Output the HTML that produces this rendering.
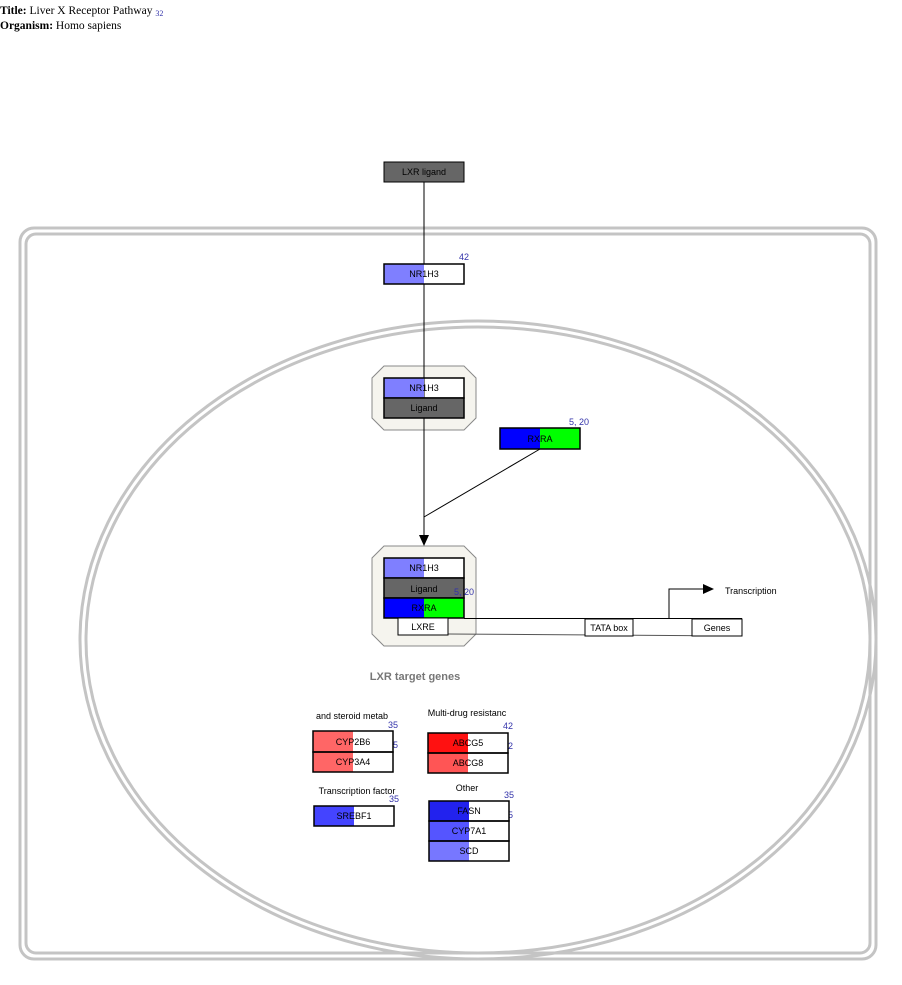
<!DOCTYPE html>
<html><head><meta charset="utf-8"><style>
body{margin:0;background:#fff;width:902px;height:985px;overflow:hidden}
svg{display:block}
.t{font-family:"Liberation Sans",sans-serif;font-size:9px}
</style></head><body>
<svg width="902" height="985" xmlns="http://www.w3.org/2000/svg">
<text x="0" y="14" font-family="Liberation Serif,serif" font-size="11.5"><tspan font-weight="bold">Title:</tspan> Liver X Receptor Pathway <tspan font-size="8" fill="#3333aa" dy="2">32</tspan></text>
<text x="0" y="29" font-family="Liberation Serif,serif" font-size="11.5"><tspan font-weight="bold">Organism:</tspan> Homo sapiens</text>

<g fill="none" stroke="#c4c4c4" stroke-width="3">
<rect x="20" y="228" width="856" height="731" rx="14"/>
<rect x="26" y="234" width="844" height="719" rx="10"/>
<ellipse cx="478" cy="640" rx="398" ry="319"/>
<ellipse cx="478" cy="640" rx="392" ry="313"/>
</g>

<polygon points="384,366 464,366 476,378 476,418 464,430 384,430 372,418 372,378" fill="#f5f4ee" stroke="#888"/>
<polygon points="384,546 464,546 476,558 476,634 464,646 384,646 372,634 372,558" fill="#f5f4ee" stroke="#888"/>

<rect x="384" y="378" width="80" height="20" fill="#fff"/>
<rect x="384" y="558" width="80" height="20" fill="#fff"/>

<g stroke="#000" fill="none">
<line x1="424" y1="182" x2="424" y2="536"/>
<line x1="540" y1="449" x2="424" y2="517"/>
<line x1="464" y1="618.5" x2="742" y2="618.5"/>
<line x1="448" y1="634" x2="742" y2="636" stroke="#555"/>
<polyline points="669,618 669,589 703,589"/>
</g>
<polygon points="419,535 429,535 424,546" fill="#000"/>
<polygon points="703,584 703,594 714,589" fill="#000"/>

<rect x="384" y="162" width="80" height="20" fill="#666" stroke="#000"/>
<text class="t" x="424" y="175" text-anchor="middle">LXR ligand</text>

<rect x="384" y="264" width="80" height="20" fill="#fff"/>
<rect x="384" y="264" width="40" height="20" fill="#7f7fff"/>
<rect x="384" y="264" width="80" height="20" fill="none" stroke="#000" stroke-width="1.5"/>
<text class="t" x="424" y="277" text-anchor="middle">NR1H3</text>
<text class="t" x="459" y="260" font-size="8" fill="#3333aa">42</text>

<rect x="384" y="378" width="40" height="20" fill="#7f7fff"/>
<rect x="384" y="378" width="80" height="20" fill="none" stroke="#000" stroke-width="1.5"/>
<text class="t" x="424" y="391" text-anchor="middle">NR1H3</text>
<rect x="384" y="398" width="80" height="20" fill="#666" stroke="#000" stroke-width="1.5"/>
<text class="t" x="424" y="411" text-anchor="middle">Ligand</text>

<rect x="500" y="428" width="40" height="21" fill="#0000ff"/>
<rect x="540" y="428" width="40" height="21" fill="#00ff00"/>
<rect x="500" y="428" width="80" height="21" fill="none" stroke="#000" stroke-width="1.5"/>
<text class="t" x="540" y="442" text-anchor="middle">RXRA</text>
<text class="t" x="569" y="425" font-size="8" fill="#3333aa">5, 20</text>

<rect x="384" y="558" width="40" height="20" fill="#7f7fff"/>
<rect x="384" y="558" width="80" height="20" fill="none" stroke="#000" stroke-width="1.5"/>
<text class="t" x="424" y="571" text-anchor="middle">NR1H3</text>
<rect x="384" y="578" width="80" height="20" fill="#666" stroke="#000" stroke-width="1.5"/>
<text class="t" x="424" y="592" text-anchor="middle">Ligand</text>
<text class="t" x="454" y="595" font-size="8" fill="#3333aa">5, 20</text>
<rect x="384" y="598" width="40" height="20" fill="#0000ff"/>
<rect x="424" y="598" width="40" height="20" fill="#00ff00"/>
<rect x="384" y="598" width="80" height="20" fill="none" stroke="#000" stroke-width="1.5"/>
<text class="t" x="424" y="611" text-anchor="middle">RXRA</text>
<rect x="398" y="618" width="50" height="17" fill="#fff" stroke="#000"/>
<text class="t" x="423" y="630" text-anchor="middle">LXRE</text>

<rect x="585" y="619" width="48" height="17" fill="#fff" stroke="#000"/>
<text class="t" x="609" y="631" text-anchor="middle">TATA box</text>
<rect x="692" y="619" width="50" height="17" fill="#fff" stroke="#000"/>
<text class="t" x="717" y="631" text-anchor="middle">Genes</text>
<text class="t" x="725" y="594">Transcription</text>

<text x="415" y="680" text-anchor="middle" font-family="Liberation Sans,sans-serif" font-size="11" font-weight="bold" fill="#777">LXR target genes</text>

<text class="t" x="352" y="719" text-anchor="middle">and steroid metab</text>
<text class="t" x="388" y="728" font-size="8" fill="#3333aa">35</text>
<text class="t" x="393" y="748" font-size="8" fill="#3333aa">5</text>
<rect x="313" y="731" width="40" height="21" fill="#ff6666"/>
<rect x="313" y="752" width="40" height="20" fill="#ff6666"/>
<rect x="313" y="731" width="80" height="21" fill="none" stroke="#000" stroke-width="1.5"/>
<rect x="313" y="752" width="80" height="20" fill="none" stroke="#000" stroke-width="1.5"/>
<text class="t" x="353" y="745" text-anchor="middle">CYP2B6</text>
<text class="t" x="353" y="765" text-anchor="middle">CYP3A4</text>

<text class="t" x="467" y="716" text-anchor="middle">Multi-drug resistanc</text>
<text class="t" x="503" y="729" font-size="8" fill="#3333aa">42</text>
<text class="t" x="508" y="749" font-size="8" fill="#3333aa">2</text>
<rect x="428" y="733" width="40" height="20" fill="#ff1111"/>
<rect x="428" y="753" width="40" height="20" fill="#ff5555"/>
<rect x="428" y="733" width="80" height="20" fill="none" stroke="#000" stroke-width="1.5"/>
<rect x="428" y="753" width="80" height="20" fill="none" stroke="#000" stroke-width="1.5"/>
<text class="t" x="468" y="746" text-anchor="middle">ABCG5</text>
<text class="t" x="468" y="766" text-anchor="middle">ABCG8</text>

<text class="t" x="357" y="794" text-anchor="middle">Transcription factor</text>
<text class="t" x="389" y="802" font-size="8" fill="#3333aa">35</text>
<rect x="314" y="806" width="40" height="20" fill="#4444ff"/>
<rect x="314" y="806" width="80" height="20" fill="none" stroke="#000" stroke-width="1.5"/>
<text class="t" x="354" y="819" text-anchor="middle">SREBF1</text>

<text class="t" x="467" y="791" text-anchor="middle">Other</text>
<text class="t" x="504" y="798" font-size="8" fill="#3333aa">35</text>
<text class="t" x="508" y="818" font-size="8" fill="#3333aa">5</text>
<rect x="429" y="801" width="40" height="20" fill="#2222ee"/>
<rect x="429" y="821" width="40" height="20" fill="#5555ff"/>
<rect x="429" y="841" width="40" height="20" fill="#7777ff"/>
<rect x="429" y="801" width="80" height="20" fill="none" stroke="#000" stroke-width="1.5"/>
<rect x="429" y="821" width="80" height="20" fill="none" stroke="#000" stroke-width="1.5"/>
<rect x="429" y="841" width="80" height="20" fill="none" stroke="#000" stroke-width="1.5"/>
<text class="t" x="469" y="814" text-anchor="middle">FASN</text>
<text class="t" x="469" y="834" text-anchor="middle">CYP7A1</text>
<text class="t" x="469" y="854" text-anchor="middle">SCD</text>
</svg>
</body></html>
